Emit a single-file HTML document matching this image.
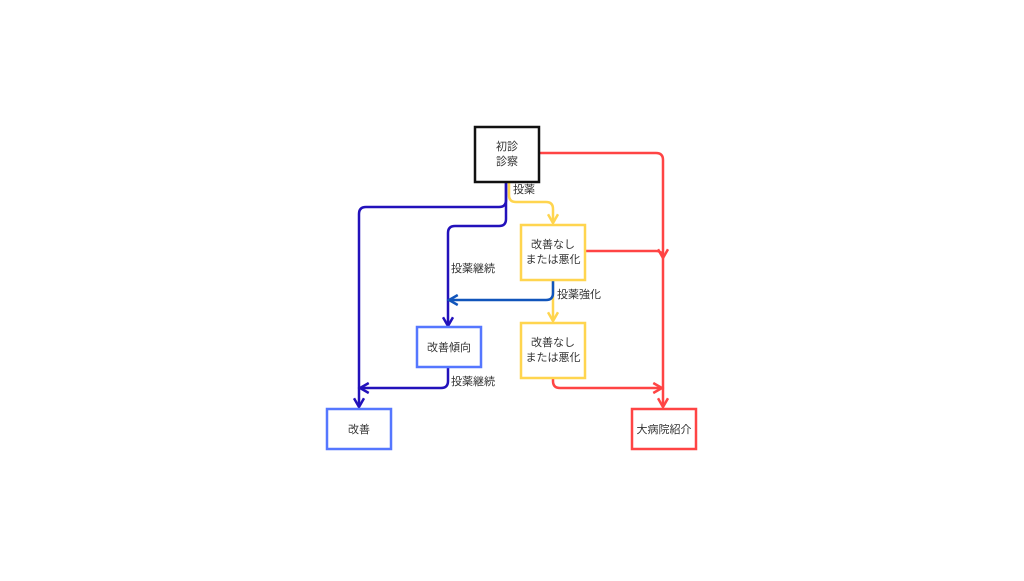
<!DOCTYPE html>
<html><head><meta charset="utf-8"><style>
body{margin:0;background:#fff;width:1024px;height:576px;overflow:hidden}
svg text{font-family:"Liberation Sans","Noto Sans CJK JP",sans-serif;font-size:11px;fill:#333}
</style></head><body>
<svg width="1024" height="576" viewBox="0 0 1024 576">
<defs>
<marker id="a1" viewBox="0 0 10 10" refX="8" refY="5" markerWidth="5" markerHeight="5" orient="auto"><path d="M1,1 L8,5 L1,9" fill="none" stroke="#2211bb" stroke-width="2"/></marker>
<marker id="a2" viewBox="0 0 10 10" refX="8" refY="5" markerWidth="5" markerHeight="5" orient="auto"><path d="M1,1 L8,5 L1,9" fill="none" stroke="#ffd54f" stroke-width="2"/></marker>
<marker id="a3" viewBox="0 0 10 10" refX="8" refY="5" markerWidth="5" markerHeight="5" orient="auto"><path d="M1,1 L8,5 L1,9" fill="none" stroke="#ff4444" stroke-width="2"/></marker>
<marker id="a4" viewBox="0 0 10 10" refX="8" refY="5" markerWidth="5" markerHeight="5" orient="auto"><path d="M1,1 L8,5 L1,9" fill="none" stroke="#1155bb" stroke-width="2"/></marker>
</defs>
<g fill="none" stroke-width="2.5">
<path d="M506,182 V200 Q506,207 499,207 H366 Q359,207 359,214 V407" stroke="#2211bb" marker-end="url(#a1)"/>
<path d="M506,182 V219 Q506,226 499,226 H455 Q448,226 448,233 V326" stroke="#2211bb" marker-end="url(#a1)"/>
<path d="M448,367 V381 Q448,388 441,388 H360" stroke="#2211bb" marker-end="url(#a1)"/>
<path d="M509,182 V195 Q509,202 516,202 H546 Q553,202 553,209 V223" stroke="#ffd54f" marker-end="url(#a2)"/>
<path d="M553,280 V321" stroke="#ffd54f" marker-end="url(#a2)"/>
<path d="M553,280 V293 Q553,300 546,300 H449" stroke="#1155bb" marker-end="url(#a4)"/>
<path d="M539,153 H656 Q663,153 663,160 V407" stroke="#ff4444" marker-end="url(#a3)"/>
<path d="M586,251 H656 Q663,251 663,258" stroke="#ff4444" marker-end="url(#a3)"/>
<path d="M553,378 V381 Q553,388 560,388 H662" stroke="#ff4444" marker-end="url(#a3)"/>
</g>
<g fill="#fff" stroke-width="2.5">
<rect x="475" y="127" width="64" height="55" stroke="#111"/>
<rect x="521" y="225" width="64" height="55" stroke="#ffd54f"/>
<rect x="521" y="323" width="64" height="55" stroke="#ffd54f"/>
<rect x="417" y="327" width="64" height="40" stroke="#5577ff"/>
<rect x="327" y="409" width="64" height="40" stroke="#5577ff"/>
<rect x="632" y="409" width="64" height="40" stroke="#ff4444"/>
</g>
<g text-anchor="middle">
<text x="507" y="150">初診</text><text x="507" y="165">診察</text>
<text x="553" y="248">改善なし</text><text x="553" y="263">または悪化</text>
<text x="553" y="346">改善なし</text><text x="553" y="361">または悪化</text>
<text x="449" y="351">改善傾向</text>
<text x="359" y="433">改善</text>
<text x="664" y="433">大病院紹介</text>
</g>
<text x="513" y="193">投薬</text>
<text x="451" y="272">投薬継続</text>
<text x="557" y="298">投薬強化</text>
<text x="451" y="385">投薬継続</text>
</svg>
</body></html>
